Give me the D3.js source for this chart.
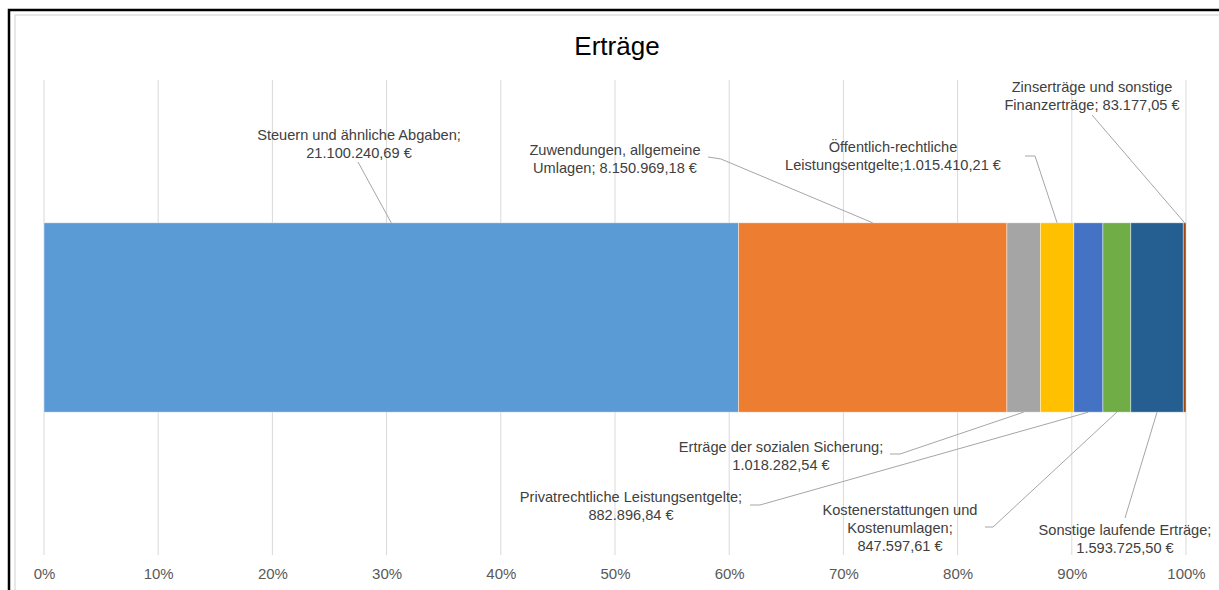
<!DOCTYPE html>
<html lang="de">
<head>
<meta charset="utf-8">
<title>Erträge</title>
<script src="https://cdn.jsdelivr.net/npm/d3@7/dist/d3.min.js"></script>
<style>
  html, body { margin: 0; padding: 0; background: #ffffff; }
  svg { display: block; font-family: "Liberation Sans", Arial, sans-serif; }
</style>
</head>
<body>
<svg id="chart" width="1219" height="590"></svg>
<script>
// Revenue categories in stacking order (left to right)
const categories = [
  "Steuern und ähnliche Abgaben",
  "Zuwendungen, allgemeine Umlagen",
  "Erträge der sozialen Sicherung",
  "Öffentlich-rechtliche Leistungsentgelte",
  "Privatrechtliche Leistungsentgelte",
  "Kostenerstattungen und Kostenumlagen",
  "Sonstige laufende Erträge",
  "Zinserträge und sonstige Finanzerträge"
];

// Amounts in euros
const values = [
  21100240.69,
  8150969.18,
  1018282.54,
  1015410.21,
  882896.84,
  847597.61,
  1593725.50,
  83177.05
];

// Data label text, one entry per line; {v} is replaced by the formatted amount
const labelLines = [
  ["Steuern und ähnliche Abgaben;", "{v}"],
  ["Zuwendungen, allgemeine", "Umlagen; {v}"],
  ["Erträge der sozialen Sicherung;", "{v}"],
  ["Öffentlich-rechtliche", "Leistungsentgelte;{v}"],
  ["Privatrechtliche Leistungsentgelte;", "{v}"],
  ["Kostenerstattungen und", "Kostenumlagen;", "{v}"],
  ["Sonstige laufende Erträge;", "{v}"],
  ["Zinserträge und sonstige", "Finanzerträge; {v}"]
];

// Axis tick values (share of total)
const tickValues = [0, 0.1, 0.2, 0.3, 0.4, 0.5, 0.6, 0.7, 0.8, 0.9, 1.0];

const colors = ["#5B9BD5", "#ED7D31", "#A5A5A5", "#FFC000", "#4472C4", "#70AD47", "#255E91", "#9E480E"];

// Label placement: text centre x, first line centre y, leader start and optional elbow, bar side
const labelLayout = [
  { cx: 359,  cy: 135, start: [358, 162],  elbow: null,        side: "top" },
  { cx: 615,  cy: 150, start: [708, 157],  elbow: [721, 159],  side: "top" },
  { cx: 781,  cy: 447, start: [890, 454],  elbow: [900, 454],  side: "bottom" },
  { cx: 893,  cy: 147, start: [1025, 156], elbow: [1035, 156], side: "top" },
  { cx: 631,  cy: 497, start: [750, 505],  elbow: [760, 505],  side: "bottom" },
  { cx: 900,  cy: 510, start: [985, 527],  elbow: [993, 527],  side: "bottom" },
  { cx: 1125, cy: 530, start: [1125, 518], elbow: null,        side: "bottom" },
  { cx: 1092, cy: 87,  start: [1092, 115], elbow: null,        side: "top" }
];

const de = d3.formatLocale({ decimal: ",", thousands: ".", grouping: [3], currency: ["", " €"] });
const fmtEuro = v => de.format(",.2f")(v) + " €";
const fmtPct = d3.format(".0%");

const svg = d3.select("#chart");

// Frame
svg.append("rect")
  .attr("x", 15).attr("y", 15).attr("width", 1230).attr("height", 600)
  .attr("fill", "#ffffff").attr("stroke", "#e0e0e0").attr("stroke-width", 1.5);
svg.append("path")
  .attr("d", "M9,600 L9,10 L1230,10")
  .attr("fill", "none").attr("stroke", "#000000").attr("stroke-width", 2.5);

// Title
svg.append("text")
  .attr("x", 617).attr("y", 55)
  .attr("text-anchor", "middle")
  .attr("font-size", 26)
  .attr("fill", "#000000")
  .text("Erträge");

// Stack the amounts as shares of the total
const total = d3.sum(values);
let acc = 0;
const segments = values.map((v, i) => {
  const s = { i, name: categories[i], value: v, x0: acc / total, x1: (acc + v) / total };
  acc += v;
  return s;
});

const x = d3.scaleLinear().domain([0, 1]).range([44, 1186]);
const y = d3.scaleBand().domain(["Erträge"]).range([80, 555]).paddingInner(0.43).paddingOuter(0.43);

// Gridlines
svg.append("g")
  .selectAll("line")
  .data(tickValues)
  .join("line")
  .attr("x1", d => x(d)).attr("x2", d => x(d))
  .attr("y1", y.range()[0]).attr("y2", y.range()[1])
  .attr("stroke", "#d9d9d9").attr("stroke-width", 1);

// Axis labels
const axis = d3.axisBottom(x).tickValues(tickValues).tickFormat(fmtPct).tickSize(0).tickPadding(13);
const gAxis = svg.append("g").attr("transform", `translate(0,${y.range()[1]})`).call(axis);
gAxis.select(".domain").remove();
gAxis.selectAll("text")
  .attr("font-family", "Liberation Sans, Arial, sans-serif")
  .attr("font-size", 15)
  .attr("fill", "#595959");

// Bar segments
const barTop = y("Erträge");
const barBottom = barTop + y.bandwidth();
svg.append("g")
  .selectAll("rect")
  .data(segments)
  .join("rect")
  .attr("x", d => x(d.x0))
  .attr("y", barTop)
  .attr("width", d => x(d.x1) - x(d.x0))
  .attr("height", y.bandwidth())
  .attr("fill", d => colors[d.i])
  .attr("stroke", "rgba(255,255,255,0.55)")
  .attr("stroke-width", 0.75);

// Leader lines
svg.append("g")
  .selectAll("polyline")
  .data(segments)
  .join("polyline")
  .attr("points", d => {
    const L = labelLayout[d.i];
    const pts = [L.start];
    if (L.elbow) pts.push(L.elbow);
    pts.push([x((d.x0 + d.x1) / 2), L.side === "top" ? barTop : barBottom]);
    return pts.map(p => p.join(",")).join(" ");
  })
  .attr("fill", "none")
  .attr("stroke", "#a6a6a6")
  .attr("stroke-width", 1);

// Data labels
const lineHeight = 18;
svg.append("g")
  .selectAll("text")
  .data(segments)
  .join("text")
  .attr("text-anchor", "middle")
  .attr("font-size", 14.6)
  .attr("fill", "#404040")
  .each(function(d) {
    const L = labelLayout[d.i];
    const t = d3.select(this);
    labelLines[d.i].forEach((ln, k) => {
      t.append("tspan")
        .attr("x", L.cx)
        .attr("y", L.cy + k * lineHeight)
        .attr("dy", "0.35em")
        .text(ln.replace("{v}", fmtEuro(d.value)));
    });
  });
</script>
</body>
</html>
